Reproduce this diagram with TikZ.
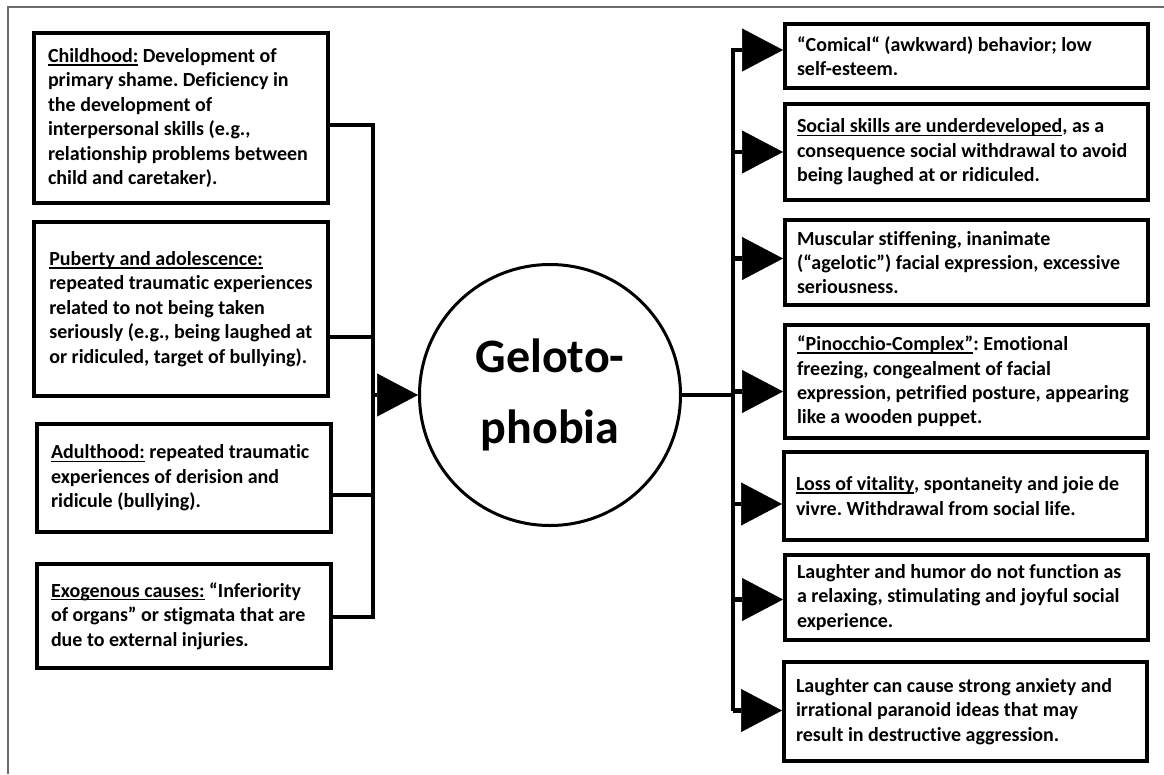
\documentclass[tikz,border=0pt]{standalone}
\usepackage{fontspec}
\setmainfont{Carlito}[Ligatures=NoCommon]
\usetikzlibrary{arrows.meta}
\definecolor{ink}{HTML}{000000}
\definecolor{framegray}{HTML}{6B6B6B}
\frenchspacing
\hyphenpenalty=10000
% underline just below the baseline
\newsavebox{\ulbox}
\newcommand{\uln}[1]{\sbox{\ulbox}{#1}\rlap{\rule[-3pt]{\wd\ulbox}{1.3pt}}\usebox{\ulbox}}

\begin{document}
\begin{tikzpicture}[x=1pt, y=-1pt,
  box/.style={draw=ink, line width=4pt, anchor=north west, align=flush left,
    inner ysep=4pt, font=\fontsize{20}{24.4}\selectfont\bfseries},
  lbox/.style={box, inner xsep=14pt, text width=266pt, minimum width=294pt},
  lwide/.style={box, inner xsep=12pt, minimum width=294pt},
  rbox/.style={box, inner xsep=12pt, text width=339pt, minimum width=363pt},
  link/.style={draw=ink, line width=4.5pt},
  tip/.style={link, -{Triangle[length=41pt, width=43pt, line width=0.5pt]}}]

\useasboundingbox (0,0) rectangle (1164,774);

% Page frame (only top and left edge visible)
\draw[framegray, line width=2pt] (8,774) -- (8,7) -- (1164,7);

% =========== CENTRE ===========
\node[draw=ink, circle, line width=3pt, minimum size=261pt, inner sep=0pt,
      align=center, font=\fontsize{48}{71}\selectfont\bfseries]
  (geo) at (550,395) {Geloto-\\phobia};

% =========== LEFT: causes ===========
\node[lbox, minimum height=170pt] (L1) at (32,31)
  {\uln{Childhood:} Development of\\
   primary shame. Deficiency in\\
   the development of\\
   interpersonal skills (e.g.,\\
   relationship problems between\\
   child and caretaker).};
\node[lwide, minimum height=174pt] (L2) at (32,220)
  {\uln{Puberty and adolescence:}\\
   repeated traumatic experiences\\
   related to not being taken\\
   seriously (e.g., being laughed at\\
   or ridiculed, target of bullying).};
\node[lbox, minimum height=108pt] (L3) at (35,422)
  {\uln{Adulthood:} repeated traumatic\\
   experiences of derision and\\
   ridicule (bullying).};
\node[lbox, minimum height=104pt] (L4) at (35,562)
  {\uln{Exogenous causes:} “Inferiority\\
   of organs” or stigmata that are\\
   due to external injuries.};

% Left bus into the circle
\coordinate (lbus) at (373,395);
\draw[link] ([yshift=-7pt]L1.east) -| (lbus) |- ([yshift=-1pt]L4.east);
\draw[link] ([yshift=-28pt]L2.east) -- ([yshift=-28pt]L2.east -| lbus);
\draw[link] ([yshift=-17pt]L3.east) -- ([yshift=-17pt]L3.east -| lbus);
\draw[tip] (lbus) -- (geo.west);

% =========== RIGHT: consequences ===========
\node[rbox, minimum height=64pt] (R1) at (783,22)
  {“Comical“ (awkward) behavior; low\\
   self-esteem.};
\node[rbox, minimum height=96pt] (R2) at (783,102)
  {\uln{Social skills are underdeveloped}, as a\\
   consequence social withdrawal to avoid\\
   being laughed at or ridiculed.};
\node[rbox, minimum height=85pt] (R3) at (783,218)
  {Muscular stiffening, inanimate\\
   (“agelotic”) facial expression, excessive\\
   seriousness.};
\node[rbox, minimum height=113pt] (R4) at (783,323)
  {\uln{“Pinocchio-Complex”}: Emotional\\
   freezing, congealment of facial\\
   expression, petrified posture, appearing\\
   like a wooden puppet.};
\node[rbox, minimum height=88pt] (R5) at (782,450)
  {\uln{Loss of vitality}, spontaneity and joie de\\
   vivre. Withdrawal from social life.};
\node[rbox, minimum height=85pt] (R6) at (783,553)
  {Laughter and humor do not function as\\
   a relaxing, stimulating and joyful social\\
   experience.};
\node[rbox, minimum height=99pt] (R7) at (782,660)
  {Laughter can cause strong anxiety and\\
   irrational paranoid ideas that may\\
   result in destructive aggression.};

% Right bus out of the circle
\coordinate (rbus) at (733,395);
\draw[link] (geo.east) -- (rbus);
\draw[link] ([yshift=8pt]R1.west -| rbus) -- ([yshift=1pt]R7.west -| rbus);
\foreach \b/\s in {R1/6, R2/0, R3/4, R4/-10, R5/-8, R6/-2, R7/1}
  \draw[tip] ([yshift=\s pt]\b.west -| rbus) -- ([yshift=\s pt]\b.west);

\end{tikzpicture}
\end{document}
